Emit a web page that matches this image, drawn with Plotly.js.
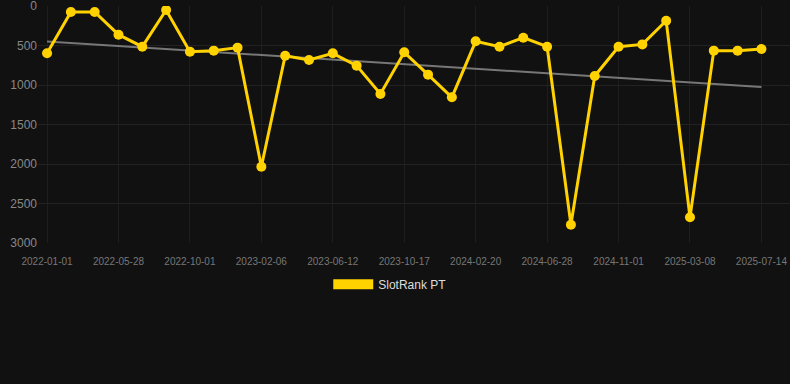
<!DOCTYPE html>
<html>
<head>
<meta charset="utf-8">
<script src="https://cdn.plot.ly/plotly-3.0.1.min.js"></script>
<style>
html,body{margin:0;padding:0;background:#111111;}
#chart{width:790px;height:384px;}
</style>
</head>
<body>
<div id="chart"></div>
<script>
const dates = [
  "2022-01-01","2022-02-19","2022-04-09","2022-05-28","2022-07-09","2022-08-20",
  "2022-10-01","2022-11-12","2022-12-25","2023-02-06","2023-03-20","2023-05-01",
  "2023-06-12","2023-07-25","2023-09-05","2023-10-17","2023-11-28","2024-01-09",
  "2024-02-20","2024-04-02","2024-05-16","2024-06-28","2024-08-09","2024-09-20",
  "2024-11-01","2024-12-13","2025-01-24","2025-03-08","2025-04-19","2025-06-01",
  "2025-07-14"
];
const ranks = [
  599, 76, 76, 363, 515, 51, 578, 565, 527, 2034, 629, 683, 599, 755, 1114, 586,
  869, 1156, 447, 515, 401, 515, 2768, 886, 515, 486, 186, 2675, 565, 565, 544
];
const tickLabels = [
  "2022-01-01","2022-05-28","2022-10-01","2023-02-06","2023-06-12","2023-10-17",
  "2024-02-20","2024-06-28","2024-11-01","2025-03-08","2025-07-14"
];
const seriesName = "SlotRank PT";

// linear trend (least squares over index)
const n = ranks.length;
let sx=0, sy=0, sxx=0, sxy=0;
ranks.forEach((v,i)=>{sx+=i; sy+=v; sxx+=i*i; sxy+=i*v;});
const slope = (n*sxy - sx*sy)/(n*sxx - sx*sx);
const icpt = (sy - slope*sx)/n;
const trendY = [icpt, icpt + slope*(n-1)];
const trendX = [dates[0], dates[n-1]];

const gold = "#ffd200";

const traces = [
  {x: trendX, y: trendY, type: "scatter", mode: "lines",
   line: {color: "#777777", width: 2}, showlegend: false, hoverinfo: "skip"},
  {x: dates, y: ranks, type: "scatter", mode: "lines+markers",
   line: {color: gold, width: 3}, marker: {color: gold, size: 10},
   showlegend: false, name: seriesName},
  {x: [dates[0]], y: [null], type: "scatter", mode: "lines",
   line: {color: gold, width: 12}, name: seriesName, showlegend: true}
];

const layout = {
  width: 790, height: 384,
  paper_bgcolor: "#111111", plot_bgcolor: "#111111",
  margin: {l: 38, r: 0, t: 6, b: 141},
  font: {family: "Arial, 'Liberation Sans', sans-serif", color: "#888888"},
  xaxis: {
    type: "category", categoryorder: "array", categoryarray: dates,
    range: [-0.38, 31.2],
    tickmode: "array", tickvals: tickLabels, ticktext: tickLabels,
    tickfont: {size: 10, color: "#777777"},
    showgrid: true, gridcolor: "#1e1e1e", zeroline: false,
    showline: false, ticks: "outside", ticklen: 9, tickcolor: "rgba(0,0,0,0)"
  },
  yaxis: {
    range: [3000, 0], tickvals: [0,500,1000,1500,2000,2500,3000],
    tickfont: {size: 12, color: "#888888"},
    showgrid: true, gridcolor: "#222222", zeroline: false,
    showline: false, ticks: "", ticklabeloverflow: "allow"
  },
  legend: {
    orientation: "h", xref: "container", x: 0.494, xanchor: "center",
    yref: "container", y: 0.26, yanchor: "middle",
    font: {size: 12, color: "#dddddd"}, itemwidth: 40,
    bgcolor: "rgba(0,0,0,0)"
  },
  showlegend: true
};

Plotly.newPlot("chart", traces, layout, {displayModeBar: false, staticPlot: true});
</script>
</body>
</html>
